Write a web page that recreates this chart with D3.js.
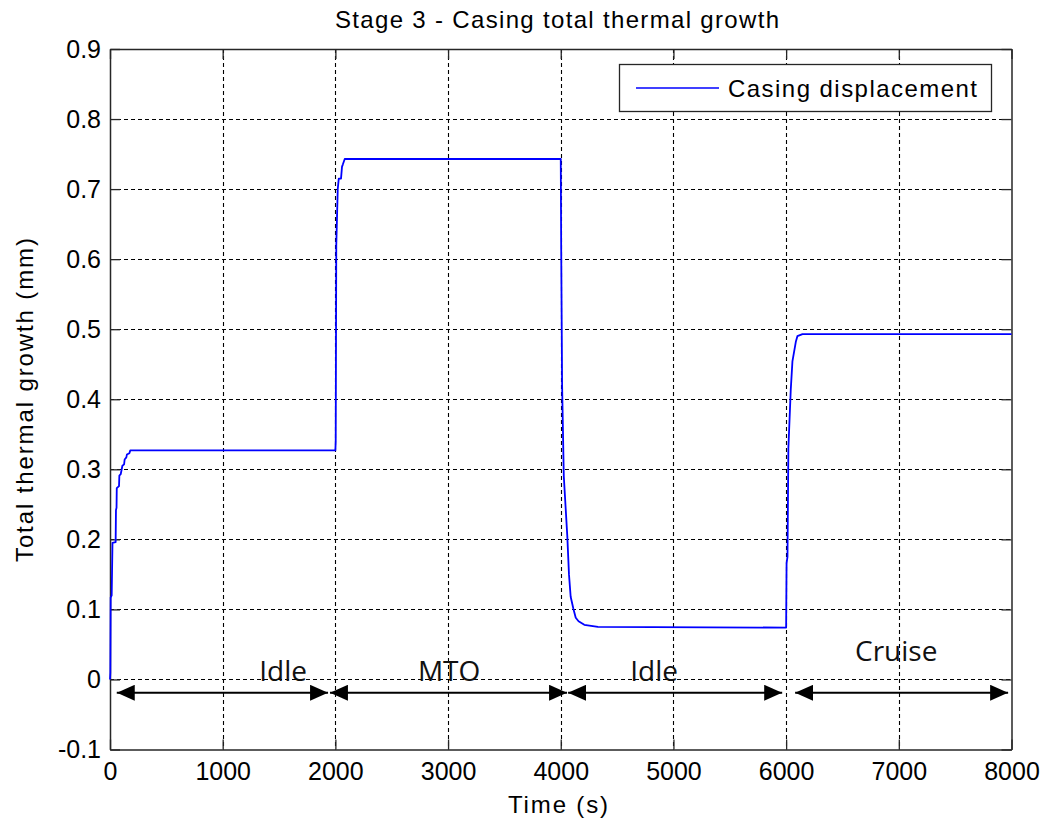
<!DOCTYPE html>
<html>
<head>
<meta charset="utf-8">
<script src="https://cdn.jsdelivr.net/npm/d3@7"></script>
<style>
  html, body { margin: 0; padding: 0; background: #fff; }
  svg { display: block; }
</style>
</head>
<body>
<svg id="chart" width="1048" height="820"></svg>
<script>
// Casing displacement history (time in s, growth in mm)
const timeS = [
  0, 3, 6, 15, 22, 50, 53, 58, 60, 80, 83, 95, 110, 125, 130, 145, 150, 172, 180, 2000,
  2003, 2008, 2021, 2030, 2050, 2059, 2066, 2083, 4000,
  4004, 4012, 4027, 4058, 4073, 4088, 4112, 4133, 4158, 4209, 4330, 6000,
  6004, 6012, 6020, 6041, 6056, 6086, 6100, 6145, 8000
];
const displacementMm = [
  0, 0.010, 0.117, 0.120, 0.195, 0.196, 0.242, 0.245, 0.273, 0.276, 0.291, 0.293, 0.305, 0.307, 0.314, 0.317, 0.321, 0.323, 0.327, 0.327,
  0.340, 0.620, 0.700, 0.715, 0.715, 0.732, 0.735, 0.743, 0.743,
  0.615, 0.420, 0.290, 0.205, 0.150, 0.118, 0.101, 0.088, 0.083, 0.078, 0.075, 0.074,
  0.166, 0.175, 0.330, 0.413, 0.454, 0.482, 0.490, 0.493, 0.493
];

// Axis ticks
const xTicks = [0, 1000, 2000, 3000, 4000, 5000, 6000, 7000, 8000];
const xTickLabels = ["0", "1000", "2000", "3000", "4000", "5000", "6000", "7000", "8000"];
const yTicks = [-0.1, 0, 0.1, 0.2, 0.3, 0.4, 0.5, 0.6, 0.7, 0.8, 0.9];
const yTickLabels = ["-0.1", "0", "0.1", "0.2", "0.3", "0.4", "0.5", "0.6", "0.7", "0.8", "0.9"];

// Operating phases: label, arrow start/end time, label anchor time and height
const phaseNames = ["Idle", "MTO", "Idle", "Cruise"];
const phaseArrowStart = [60, 1952, 4065, 6080];
const phaseArrowEnd = [1935, 4056, 5965, 7970];
const phaseLabelTime = [1536, 3009, 4829, 6977];
const phaseLabelValue = [-0.002, -0.002, -0.002, 0.026];
const phaseArrowValue = -0.019;

const titleText = "Stage 3 - Casing total thermal growth";
const xLabelText = "Time (s)";
const yLabelText = "Total thermal growth (mm)";
const legendText = "Casing displacement";

const svg = d3.select("#chart");
const plotLeft = 110, plotRight = 1011.5, plotTop = 49, plotBottom = 749.5;

const x = d3.scaleLinear().domain([0, 8000]).range([plotLeft, plotRight]);
const y = d3.scaleLinear().domain([-0.1, 0.9]).range([plotBottom, plotTop]);

const axisFont = "'Liberation Sans', Arial, sans-serif";

svg.append("rect").attr("width", 1048).attr("height", 820).attr("fill", "#fff");

// Grid
const grid = svg.append("g")
  .attr("stroke", "#000").attr("stroke-width", 1.1).attr("stroke-dasharray", "4,3");
grid.selectAll("line.gx").data(xTicks.slice(1, -1)).join("line")
  .attr("x1", d => Math.round(x(d)) + 0.5).attr("x2", d => Math.round(x(d)) + 0.5)
  .attr("y1", plotTop).attr("y2", plotBottom);
grid.selectAll("line.gy").data(yTicks.slice(1, -1)).join("line")
  .attr("y1", d => Math.round(y(d)) + 0.5).attr("y2", d => Math.round(y(d)) + 0.5)
  .attr("x1", plotLeft).attr("x2", plotRight);

// Axes with inward ticks on all four sides
function styleAxis(g) {
  g.select(".domain").attr("stroke", "#262626").attr("stroke-width", 1.5);
  g.selectAll(".tick line").attr("stroke", "#262626").attr("stroke-width", 1.3);
  g.selectAll(".tick text").attr("fill", "#000")
    .style("font-family", axisFont).style("font-size", "25px");
}
const xIdx = d => xTicks.indexOf(d);
const yIdx = d => yTicks.findIndex(v => Math.abs(v - d) < 1e-9);

svg.append("g").attr("transform", `translate(0,${plotBottom})`)
  .call(d3.axisBottom(x).tickValues(xTicks).tickSizeInner(-10).tickSizeOuter(0).tickPadding(13)
    .tickFormat(d => xTickLabels[xIdx(d)]))
  .call(styleAxis);
svg.append("g").attr("transform", `translate(0,${plotTop})`)
  .call(d3.axisTop(x).tickValues(xTicks).tickSizeInner(-10).tickSizeOuter(0).tickFormat(""))
  .call(styleAxis);
svg.append("g").attr("transform", `translate(${plotLeft},0)`)
  .call(d3.axisLeft(y).tickValues(yTicks).tickSizeInner(-10).tickSizeOuter(0).tickPadding(9)
    .tickFormat(d => yTickLabels[yIdx(d)]))
  .call(styleAxis);
svg.append("g").attr("transform", `translate(${plotRight},0)`)
  .call(d3.axisRight(y).tickValues(yTicks).tickSizeInner(-10).tickSizeOuter(0).tickFormat(""))
  .call(styleAxis);

// Displacement curve
const points = timeS.map((t, i) => [t, displacementMm[i]]);
svg.append("path")
  .datum(points)
  .attr("fill", "none").attr("stroke", "#0000ff").attr("stroke-width", 1.8)
  .attr("stroke-linejoin", "round")
  .attr("d", d3.line().x(d => x(d[0])).y(d => y(d[1])));

// Phase arrows
const defs = svg.append("defs");
defs.append("marker").attr("id", "headEnd")
  .attr("viewBox", "0 0 18 16").attr("refX", 18).attr("refY", 8)
  .attr("markerWidth", 18).attr("markerHeight", 16).attr("markerUnits", "userSpaceOnUse")
  .attr("orient", "auto")
  .append("path").attr("d", "M0,0 L18,8 L0,16 Z").attr("fill", "#000");
defs.append("marker").attr("id", "headStart")
  .attr("viewBox", "0 0 18 16").attr("refX", 0).attr("refY", 8)
  .attr("markerWidth", 18).attr("markerHeight", 16).attr("markerUnits", "userSpaceOnUse")
  .attr("orient", "auto")
  .append("path").attr("d", "M18,0 L0,8 L18,16 Z").attr("fill", "#000");

svg.append("g").selectAll("line").data(phaseNames).join("line")
  .attr("x1", (d, i) => x(phaseArrowStart[i]))
  .attr("x2", (d, i) => x(phaseArrowEnd[i]))
  .attr("y1", y(phaseArrowValue)).attr("y2", y(phaseArrowValue))
  .attr("stroke", "#000").attr("stroke-width", 2)
  .attr("marker-start", "url(#headStart)").attr("marker-end", "url(#headEnd)");

svg.append("g").selectAll("text").data(phaseNames).join("text")
  .attr("x", (d, i) => x(phaseLabelTime[i]))
  .attr("y", (d, i) => y(phaseLabelValue[i]))
  .attr("text-anchor", "middle")
  .style("font-family", "'Open Sans', 'Noto Sans', sans-serif")
  .style("font-size", "28px").attr("fill", "#111")
  .text(d => d);

// Legend
const legend = svg.append("g");
legend.append("rect").attr("x", 619.5).attr("y", 64.5).attr("width", 372).attr("height", 47)
  .attr("fill", "#fff").attr("stroke", "#262626").attr("stroke-width", 1.3);
legend.append("line").attr("x1", 636).attr("x2", 719).attr("y1", 88).attr("y2", 88)
  .attr("stroke", "#0000ff").attr("stroke-width", 1.5);
legend.append("text").attr("x", 728).attr("y", 97)
  .attr("textLength", 249).attr("lengthAdjust", "spacing")
  .style("font-family", axisFont).style("font-size", "24px").attr("fill", "#000")
  .text(legendText);

// Titles
svg.append("text").attr("x", 557).attr("y", 28).attr("text-anchor", "middle")
  .attr("textLength", 444).attr("lengthAdjust", "spacing")
  .style("font-family", axisFont).style("font-size", "24px").attr("fill", "#000")
  .text(titleText);
svg.append("text").attr("x", 558).attr("y", 813).attr("text-anchor", "middle")
  .attr("textLength", 100).attr("lengthAdjust", "spacing")
  .style("font-family", axisFont).style("font-size", "24px").attr("fill", "#000")
  .text(xLabelText);
svg.append("text").attr("transform", "translate(33,400) rotate(-90)").attr("text-anchor", "middle")
  .attr("textLength", 324).attr("lengthAdjust", "spacing")
  .style("font-family", axisFont).style("font-size", "24px").attr("fill", "#000")
  .text(yLabelText);
</script>
</body>
</html>
